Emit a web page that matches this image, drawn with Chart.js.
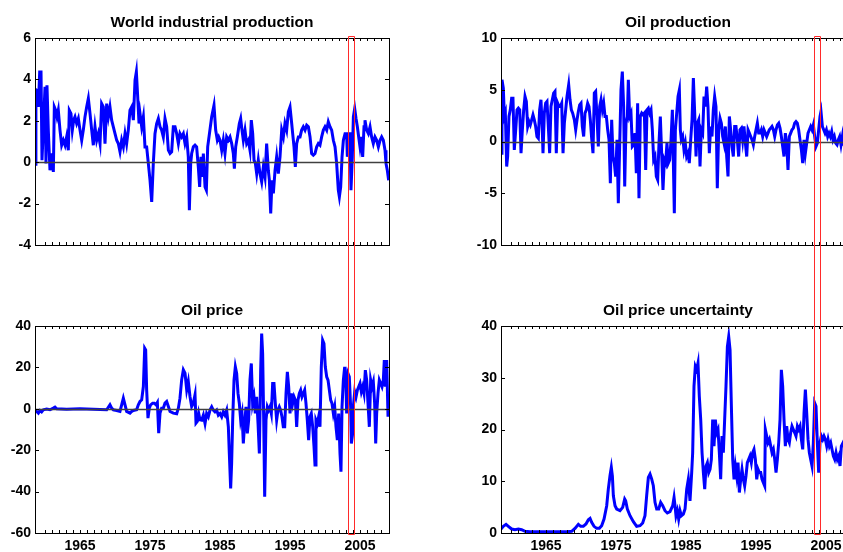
<!DOCTYPE html>
<html>
<head>
<meta charset="utf-8">
<script src="https://cdn.jsdelivr.net/npm/chart.js@4.4.0/dist/chart.umd.min.js"></script>
<style>
  html, body { margin: 0; padding: 0; background: #fff; }
  #fig { position: relative; width: 843px; height: 552px; overflow: hidden; background: #fff; }
  #fig canvas { position: absolute; }
</style>
</head>
<body>
<div id="fig">
  <canvas id="wip" width="421" height="280" style="left:0;top:0"></canvas>
  <canvas id="oilprod" width="435" height="280" style="left:421px;top:0"></canvas>
  <canvas id="oilprice" width="421" height="272" style="left:0;top:280px"></canvas>
  <canvas id="uncert" width="435" height="272" style="left:421px;top:280px"></canvas>
</div>
<script>
// time axis (years) and the highlighted window
const xRange = [1958.57, 2009.14];
const yearLabels = [1965, 1975, 1985, 1995, 2005];
const highlight = [2003.25, 2004.2];

// [year, value]
const worldIP = [
  [1958.57,-0.1],[1958.7,3.5],[1958.81,3.48],[1959.05,2.67],[1959.24,4.36],[1959.43,4.36],[1959.57,0.1],
  [1960.0,3.64],[1960.14,-0.06],[1960.28,3.72],[1960.47,1.55],[1960.71,-0.39],[1960.95,0.42],[1961.19,-0.47],
  [1961.33,2.67],[1961.52,2.51],[1961.71,2.19],[1961.9,2.51],[1962.14,1.55],[1962.38,0.82],[1962.62,1.06],
  [1962.86,0.82],[1963.09,1.22],[1963.33,0.58],[1963.47,2.51],[1963.71,2.35],[1963.9,1.55],[1964.09,2.03],
  [1964.28,2.19],[1964.52,1.87],[1964.76,2.11],[1965.0,1.55],[1965.24,1.06],[1965.47,1.55],[1965.71,2.19],
  [1965.95,2.67],[1966.19,3.08],[1966.43,2.35],[1966.67,1.55],[1966.9,0.82],[1967.14,1.71],[1967.38,1.06],
  [1967.62,1.38],[1967.86,0.9],[1968.09,2.83],[1968.33,2.67],[1968.57,0.9],[1968.81,2.83],[1969.05,2.19],
  [1969.28,2.67],[1969.52,2.03],[1969.76,1.71],[1970.0,1.38],[1970.24,1.06],[1970.47,0.9],[1970.71,0.5],
  [1970.95,1.06],[1971.19,0.74],[1971.43,1.38],[1971.66,0.9],[1971.9,1.55],[1972.14,2.51],[1972.38,2.67],
  [1972.62,2.03],[1972.86,3.96],[1973.05,4.36],[1973.24,3.16],[1973.43,1.87],[1973.57,2.35],[1973.81,1.71],
  [1974.05,2.19],[1974.28,0.74],[1974.52,0.74],[1974.76,-0.06],[1975.0,-0.87],[1975.24,-1.92],[1975.47,-0.06],
  [1975.71,1.38],[1975.95,1.87],[1976.19,2.11],[1976.43,1.71],[1976.66,1.55],[1976.9,1.22],[1977.14,2.11],
  [1977.38,1.71],[1977.62,0.58],[1977.86,0.42],[1978.09,0.5],[1978.33,1.71],[1978.57,1.71],[1978.81,1.38],
  [1979.05,0.9],[1979.28,1.38],[1979.52,1.22],[1979.76,1.38],[1980.0,0.9],[1980.24,1.22],[1980.47,0.26],
  [1980.62,-2.32],[1980.81,-0.06],[1980.95,0.42],[1981.19,0.74],[1981.43,0.82],[1981.66,0.74],[1981.9,-0.23],
  [1982.09,-1.19],[1982.28,0.26],[1982.47,-0.71],[1982.62,0.42],[1982.86,-1.19],[1983.05,-1.35],[1983.24,0.74],
  [1983.81,2.19],[1984.14,2.75],[1984.38,1.55],[1984.62,1.06],[1984.81,1.22],[1985.0,1.06],[1985.24,0.58],
  [1985.47,1.06],[1985.71,0.42],[1985.95,1.22],[1986.19,1.06],[1986.43,1.22],[1986.67,0.9],[1986.9,0.42],
  [1987.05,-0.31],[1987.24,0.74],[1987.47,1.22],[1987.76,1.87],[1987.95,2.11],[1988.14,1.55],[1988.33,1.06],
  [1988.57,1.55],[1988.81,0.9],[1989.05,1.06],[1989.28,0.58],[1989.47,2.03],[1989.67,1.38],[1989.86,0.1],
  [1990.05,-0.06],[1990.24,-0.55],[1990.47,0.1],[1990.71,-0.55],[1990.95,-0.95],[1991.19,-0.23],[1991.43,-0.71],
  [1991.66,0.9],[1991.9,-0.39],[1992.05,-0.87],[1992.24,-2.48],[1992.43,-0.87],[1992.62,-1.51],[1992.86,-0.39],
  [1993.09,0.26],[1993.33,-0.55],[1993.57,0.26],[1993.81,1.55],[1994.05,1.22],[1994.28,1.87],[1994.52,1.55],
  [1994.76,2.43],[1995.0,2.67],[1995.24,1.87],[1995.38,1.38],[1995.57,0.74],[1995.76,-0.23],[1995.95,0.9],
  [1996.19,1.22],[1996.43,1.22],[1996.66,1.55],[1996.9,1.71],[1997.14,1.55],[1997.38,1.79],[1997.62,1.71],
  [1997.86,1.22],[1998.09,0.42],[1998.33,0.34],[1998.57,0.42],[1998.81,0.74],[1999.05,0.9],[1999.28,0.82],
  [1999.52,1.22],[1999.76,1.55],[2000.0,1.71],[2000.24,1.55],[2000.47,1.95],[2000.71,1.71],[2000.95,1.55],
  [2001.19,1.06],[2001.43,0.74],[2001.66,-0.06],[2001.9,-1.35],[2002.05,-1.67],[2002.24,-1.19],[2002.43,0.26],
  [2002.62,1.06],[2002.86,1.38],[2003.09,1.38],[2003.19,0.26],[2003.33,1.38],[2003.57,1.38],[2003.71,-1.35],
  [2003.9,0.26],[2004.05,2.19],[2004.24,2.59],[2004.43,2.11],[2004.62,1.71],[2004.81,1.22],[2005.0,0.74],
  [2005.19,1.22],[2005.38,0.26],[2005.57,1.71],[2005.71,2.03],[2005.95,1.55],[2006.19,1.38],[2006.43,1.71],
  [2006.66,1.22],[2006.9,0.9],[2007.14,1.22],[2007.38,1.06],[2007.62,0.74],[2007.86,1.06],[2008.09,1.22],
  [2008.33,1.06],[2008.57,0.58],[2008.71,-0.06],[2008.9,-0.39],[2009.09,-0.87]
];

const oilProduction = [
  [1958.57,-1.13],[1958.71,5.96],[1958.9,5.15],[1959.05,2.42],[1959.19,2.74],[1959.38,-2.42],[1959.52,-1.45],
  [1959.71,2.42],[1959.9,3.06],[1960.09,4.19],[1960.28,4.19],[1960.47,-0.81],[1960.67,1.13],[1960.86,3.06],
  [1961.05,3.22],[1961.24,3.06],[1961.43,-1.13],[1961.62,1.13],[1961.81,3.06],[1962.0,4.35],[1962.19,3.86],
  [1962.38,1.45],[1962.57,1.93],[1962.76,1.61],[1962.95,2.09],[1963.14,2.58],[1963.33,2.09],[1963.52,1.45],
  [1963.71,0.48],[1963.9,0.32],[1964.09,3.06],[1964.28,4.03],[1964.47,1.13],[1964.57,-1.13],[1964.76,2.74],
  [1964.95,3.7],[1965.14,3.86],[1965.33,1.45],[1965.52,-1.13],[1965.71,3.38],[1965.9,4.03],[1966.09,4.67],
  [1966.28,4.83],[1966.47,-1.13],[1966.67,3.7],[1966.86,3.38],[1967.05,3.38],[1967.24,3.7],[1967.43,-1.13],
  [1967.62,1.77],[1967.81,3.06],[1968.0,4.35],[1968.24,5.48],[1968.43,4.03],[1968.62,3.06],[1968.81,2.74],
  [1969.05,2.09],[1969.24,1.13],[1969.43,2.09],[1969.62,2.9],[1969.81,3.54],[1970.0,3.7],[1970.19,1.45],
  [1970.38,0.48],[1970.57,2.74],[1970.76,3.06],[1970.95,3.7],[1971.14,3.38],[1971.33,2.09],[1971.52,0.32],
  [1971.71,-1.13],[1971.9,4.67],[1972.09,4.83],[1972.28,2.42],[1972.47,-0.48],[1972.67,3.38],[1972.86,4.03],
  [1973.05,3.06],[1973.24,3.7],[1973.43,2.42],[1973.62,2.42],[1973.81,1.13],[1974.0,0.16],[1974.19,-4.03],
  [1974.38,2.09],[1974.57,-1.45],[1974.76,-2.09],[1974.95,-3.38],[1975.14,0.16],[1975.33,-5.96],[1975.52,-0.48],
  [1975.71,4.99],[1975.9,6.76],[1976.09,3.38],[1976.24,-4.35],[1976.43,1.77],[1976.62,2.42],[1976.76,5.96],
  [1976.95,2.42],[1977.14,2.74],[1977.33,-0.48],[1977.52,-0.32],[1977.71,0.81],[1977.9,-3.06],[1978.09,3.7],
  [1978.28,-5.48],[1978.47,2.42],[1978.67,2.74],[1978.86,2.58],[1979.05,2.74],[1979.24,-2.74],[1979.43,3.06],
  [1979.62,3.22],[1979.81,2.74],[1980.0,3.06],[1980.19,1.13],[1980.38,-1.77],[1980.57,-1.45],[1980.76,-3.38],
  [1980.95,-3.7],[1981.14,-0.16],[1981.33,2.42],[1981.52,-1.13],[1981.71,-4.67],[1981.9,-1.77],[1982.09,-2.09],
  [1982.28,-0.16],[1982.47,-2.09],[1982.67,-1.77],[1982.86,0.16],[1983.05,3.06],[1983.24,-3.7],[1983.33,-6.92],
  [1983.48,1.13],[1983.86,4.35],[1984.05,4.99],[1984.19,1.13],[1984.33,0.16],[1984.52,0.48],[1984.71,-0.81],
  [1984.9,-0.16],[1985.09,-1.45],[1985.28,-1.13],[1985.47,-2.09],[1985.67,0.16],[1985.86,2.09],[1986.05,6.12],
  [1986.24,2.74],[1986.43,-1.45],[1986.62,1.77],[1986.81,2.09],[1987.0,-2.42],[1987.19,1.13],[1987.38,0.81],
  [1987.57,4.35],[1987.76,3.38],[1987.95,5.31],[1988.14,3.38],[1988.33,-1.13],[1988.52,1.45],[1988.71,0.48],
  [1988.9,3.06],[1989.09,4.35],[1989.28,3.38],[1989.47,-4.51],[1989.67,1.13],[1989.86,2.25],[1990.05,1.77],
  [1990.24,0.48],[1990.43,-0.16],[1990.62,1.45],[1990.81,-1.45],[1991.0,-3.38],[1991.19,2.42],[1991.38,1.13],
  [1991.57,-0.48],[1991.76,-1.45],[1991.95,1.45],[1992.14,1.45],[1992.33,0.16],[1992.52,-1.45],[1992.71,1.13],
  [1992.9,1.29],[1993.09,0.16],[1993.28,1.45],[1993.48,-0.16],[1993.67,-1.45],[1993.86,1.13],[1994.05,0.81],
  [1994.24,0.48],[1994.43,0.16],[1994.62,-0.32],[1994.81,0.48],[1995.0,1.13],[1995.19,1.77],[1995.38,0.81],
  [1995.57,0.81],[1995.76,1.13],[1995.95,0.48],[1996.14,1.13],[1996.33,0.81],[1996.52,0.48],[1996.71,0.81],
  [1996.9,1.13],[1997.09,1.29],[1997.28,1.45],[1997.48,1.13],[1997.67,0.48],[1997.86,1.13],[1998.05,1.61],
  [1998.24,1.77],[1998.43,1.29],[1998.62,0.48],[1998.81,-0.48],[1999.0,-1.45],[1999.19,0.81],[1999.38,-0.16],
  [1999.57,-2.74],[1999.76,0.48],[1999.95,0.81],[2000.14,1.13],[2000.33,1.29],[2000.52,1.77],[2000.71,1.93],
  [2000.9,1.77],[2001.09,1.13],[2001.28,0.16],[2001.48,-0.81],[2001.67,-2.09],[2001.86,0.16],[2002.05,-1.13],
  [2002.24,-0.16],[2002.43,0.81],[2002.62,1.13],[2002.81,1.45],[2003.0,1.13],[2003.19,1.61],[2003.38,0.48],
  [2003.57,-0.48],[2003.76,-0.16],[2003.95,1.13],[2004.14,2.42],[2004.28,2.9],[2004.48,1.45],[2004.67,1.13],
  [2004.86,0.81],[2005.05,1.13],[2005.24,0.48],[2005.43,0.81],[2005.62,0.48],[2005.81,0.97],[2006.0,0.16],
  [2006.19,0.48],[2006.38,-0.16],[2006.57,-0.32],[2006.76,0.16],[2006.95,0.48],[2007.14,-0.32],[2007.33,0.48],
  [2007.43,-0.16],[2007.86,0.16],[2009.09,0.0]
];

const oilPrice = [
  [1958.57,-0.48],[1958.81,-1.29],[1959.05,-2.09],[1959.28,-0.8],[1959.52,-1.45],[1959.76,-0.48],[1960.24,-0.16],
  [1960.71,-0.48],[1961.19,0.32],[1961.43,0.8],[1961.67,0.0],[1963.09,-0.16],[1965.0,0.0],[1966.9,-0.16],
  [1967.86,-0.32],[1968.81,-0.48],[1969.28,1.93],[1969.52,0.32],[1969.76,-0.48],[1970.24,-0.8],[1970.71,-1.29],
  [1970.95,1.93],[1971.19,5.14],[1971.43,1.93],[1971.66,-1.29],[1972.14,-2.09],[1972.38,-1.29],[1972.62,-0.8],
  [1973.09,-0.48],[1973.33,1.93],[1973.57,3.54],[1973.81,4.34],[1974.05,10.77],[1974.24,29.26],[1974.38,28.46],
  [1974.52,9.16],[1974.71,-4.5],[1974.9,0.32],[1975.09,1.93],[1975.38,2.73],[1975.62,2.73],[1975.86,1.93],
  [1976.05,3.05],[1976.24,-11.74],[1976.43,-2.09],[1976.66,0.32],[1976.9,0.32],[1977.14,2.73],[1977.38,3.54],
  [1977.62,1.13],[1977.86,-1.29],[1978.33,-2.09],[1978.81,-2.41],[1979.05,0.32],[1979.28,5.14],[1979.52,13.99],
  [1979.76,18.81],[1980.0,17.2],[1980.24,9.16],[1980.47,13.18],[1980.71,5.95],[1980.95,1.13],[1981.19,2.73],
  [1981.43,6.75],[1981.57,-6.91],[1981.76,-6.11],[1981.95,-2.09],[1982.14,-5.31],[1982.38,-5.48],[1982.62,-3.06],
  [1982.86,-7.09],[1983.09,-2.25],[1983.33,-3.86],[1983.57,-0.64],[1983.81,0.97],[1984.04,-0.64],[1984.28,-1.45],
  [1984.52,-0.64],[1984.76,-3.06],[1985.0,-2.25],[1985.24,-3.86],[1985.47,-1.45],[1985.71,-3.06],[1985.95,-0.64],
  [1986.19,-8.7],[1986.33,-21.58],[1986.52,-38.49],[1986.66,-26.41],[1986.81,-5.48],[1987.0,13.85],[1987.19,20.29],
  [1987.38,17.07],[1987.57,7.41],[1987.76,2.58],[1987.95,-5.48],[1988.14,-2.25],[1988.33,-16.75],[1988.52,-7.09],
  [1988.71,0.97],[1988.9,-11.92],[1989.09,-5.48],[1989.28,13.85],[1989.47,21.9],[1989.66,2.58],[1989.85,5.8],
  [1990.04,-2.25],[1990.23,5.8],[1990.43,-7.09],[1990.62,-21.58],[1990.81,18.68],[1990.95,36.39],[1991.09,26.73],
  [1991.24,-5.48],[1991.38,-42.51],[1991.57,-5.48],[1991.76,0.97],[1991.95,-0.64],[1992.14,0.97],[1992.33,-2.25],
  [1992.52,12.24],[1992.71,12.24],[1992.9,2.58],[1993.09,-5.48],[1993.28,-0.64],[1993.47,0.97],[1993.66,-0.64],
  [1993.85,-3.86],[1994.04,-8.7],[1994.24,-8.7],[1994.43,7.41],[1994.62,17.87],[1994.81,10.63],[1995.0,-2.25],
  [1995.19,7.41],[1995.38,2.58],[1995.57,5.8],[1995.76,4.19],[1995.95,-8.7],[1996.14,4.19],[1996.33,7.41],
  [1996.52,9.02],[1996.71,5.8],[1996.9,7.41],[1997.09,9.02],[1997.28,2.58],[1997.47,-5.48],[1997.66,-15.14],
  [1997.85,-3.86],[1998.04,-2.25],[1998.24,-8.7],[1998.43,-18.36],[1998.57,-27.21],[1998.71,-5.48],[1998.9,-7.09],
  [1999.09,-3.86],[1999.28,-8.7],[1999.47,20.29],[1999.66,33.17],[1999.85,31.56],[2000.04,20.29],[2000.24,15.46],
  [2000.43,13.85],[2000.62,9.02],[2000.81,4.19],[2001.0,2.58],[2001.19,-2.25],[2001.38,0.97],[2001.57,-8.7],
  [2001.76,-15.14],[2001.95,-2.25],[2002.14,-21.58],[2002.28,-30.43],[2002.43,0.97],[2002.62,13.85],[2002.81,20.29],
  [2003.0,10.63],[2003.09,-2.25],[2003.28,17.07],[2003.47,15.46],[2003.66,0.97],[2003.76,-16.75],[2003.95,-11.92],
  [2004.04,0.97],[2004.24,8.21],[2004.43,5.8],[2004.62,9.02],[2004.81,10.63],[2005.0,12.24],[2005.19,8.21],
  [2005.38,10.63],[2005.57,7.41],[2005.76,18.68],[2005.95,13.85],[2006.14,2.58],[2006.33,-8.7],[2006.52,13.85],
  [2006.71,10.63],[2006.9,13.04],[2007.09,2.58],[2007.24,-16.75],[2007.38,-2.25],[2007.57,7.41],[2007.76,13.85],
  [2007.95,12.24],[2008.14,10.63],[2008.33,13.85],[2008.47,23.51],[2008.62,10.63],[2008.81,23.51],[2009.0,-3.86]
];

const oilUncertainty = [
  [1958.57,0.77],[1958.9,1.29],[1959.29,1.67],[1959.62,1.29],[1960.09,0.77],[1960.57,0.64],[1961.05,0.77],
  [1961.52,0.64],[1962.0,0.32],[1962.71,0.26],[1964.14,0.26],[1966.05,0.26],[1967.95,0.26],[1968.67,0.32],
  [1969.14,0.9],[1969.62,1.67],[1969.95,1.29],[1970.33,1.29],[1970.71,1.74],[1971.05,2.57],[1971.29,2.83],
  [1971.52,2.06],[1971.86,1.29],[1972.24,0.9],[1972.62,0.9],[1972.95,1.41],[1973.29,2.7],[1973.67,5.27],
  [1973.9,8.49],[1974.14,11.06],[1974.33,12.67],[1974.48,11.06],[1974.62,7.2],[1974.86,5.27],[1975.1,4.63],
  [1975.57,4.31],[1975.95,4.95],[1976.24,6.56],[1976.38,6.24],[1976.62,4.63],[1977.0,3.34],[1977.48,2.19],
  [1977.95,1.29],[1978.43,1.41],[1978.81,1.93],[1979.14,3.34],[1979.38,7.2],[1979.62,10.74],[1979.86,11.38],
  [1980.1,10.42],[1980.33,9.13],[1980.57,5.92],[1980.81,4.63],[1981.1,4.63],[1981.38,5.92],[1981.67,5.27],
  [1982.0,4.31],[1982.33,3.86],[1982.71,4.12],[1983.1,5.27],[1983.29,6.88],[1983.43,5.27],[1983.57,3.34],
  [1983.76,4.31],[1983.95,2.7],[1984.14,4.31],[1984.33,3.34],[1984.62,3.67],[1984.86,4.63],[1985.1,8.49],
  [1985.33,10.38],[1985.57,6.22],[1985.81,11.67],[1985.95,15.51],[1986.14,28.33],[1986.33,32.18],[1986.52,31.54],
  [1986.71,32.82],[1986.9,26.41],[1987.1,21.92],[1987.29,15.51],[1987.48,11.67],[1987.67,8.46],[1987.86,12.95],
  [1988.05,13.59],[1988.24,11.67],[1988.43,12.31],[1988.62,14.23],[1988.81,21.92],[1989.0,16.79],[1989.19,21.92],
  [1989.38,19.36],[1989.57,20.0],[1989.76,15.51],[1989.95,10.38],[1990.14,18.72],[1990.33,15.51],[1990.52,21.92],
  [1990.71,28.33],[1990.91,36.03],[1991.1,37.95],[1991.29,35.38],[1991.48,24.49],[1991.67,14.23],[1991.86,10.38],
  [1992.05,12.95],[1992.24,11.03],[1992.43,13.59],[1992.62,7.82],[1992.81,10.38],[1993.0,12.31],[1993.19,10.38],
  [1993.38,9.1],[1993.57,11.03],[1993.76,13.59],[1993.95,14.23],[1994.14,14.87],[1994.33,13.59],[1994.52,15.51],
  [1994.71,16.15],[1994.91,14.23],[1995.1,10.38],[1995.29,12.31],[1995.48,11.67],[1995.67,11.67],[1995.86,10.38],
  [1996.05,9.74],[1996.24,9.1],[1996.33,20.0],[1996.52,18.72],[1996.71,17.44],[1996.91,18.08],[1997.1,16.79],
  [1997.29,15.51],[1997.48,16.15],[1997.67,14.23],[1997.86,11.67],[1998.05,14.23],[1998.24,17.44],[1998.43,21.92],
  [1998.62,31.54],[1998.81,28.33],[1999.0,21.92],[1999.19,16.79],[1999.38,20.64],[1999.57,18.08],[1999.76,17.44],
  [1999.95,19.36],[2000.14,20.64],[2000.33,20.0],[2000.53,19.36],[2000.71,18.72],[2000.91,20.64],[2001.1,20.0],
  [2001.29,20.64],[2001.48,18.08],[2001.67,16.15],[2001.86,23.21],[2002.05,27.69],[2002.24,23.21],[2002.43,18.08],
  [2002.62,15.51],[2002.81,14.23],[2003.0,12.95],[2003.19,17.44],[2003.38,25.13],[2003.57,24.49],[2003.76,17.44],
  [2003.95,11.67],[2004.14,17.44],[2004.33,18.72],[2004.53,18.08],[2004.71,18.72],[2004.91,18.08],[2005.1,16.79],
  [2005.29,18.08],[2005.48,16.79],[2005.67,17.44],[2005.86,16.15],[2006.05,14.87],[2006.24,14.23],[2006.43,15.51],
  [2006.62,14.23],[2006.81,14.87],[2007.0,12.95],[2007.19,16.79],[2007.43,17.44],[2008.0,15.0],[2009.0,14.0]
];

const FONT = "'Liberation Sans', Arial, Helvetica, sans-serif";

// MATLAB-like box: inward ticks on all four sides, zero line, red window
const framePlugin = {
  id: 'frame',
  afterDatasetsDraw(chart, args, opts) {
    const ctx = chart.ctx;
    const {left, right, top, bottom} = chart.chartArea;
    const xs = chart.scales.x, ys = chart.scales.y;
    ctx.save();
    if (ys.min < 0) {
      const y0 = Math.round(ys.getPixelForValue(0)) + 0.5;
      ctx.strokeStyle = '#404040';
      ctx.lineWidth = 1.3;
      ctx.beginPath(); ctx.moveTo(left, y0); ctx.lineTo(right, y0); ctx.stroke();
    }
    ctx.strokeStyle = '#000';
    ctx.lineWidth = 1;
    ctx.beginPath();
    xs.ticks.forEach(t => {
      if (!Number.isInteger(t.value)) return;
      const px = Math.round(xs.getPixelForValue(t.value)) + 0.5;
      ctx.moveTo(px, top); ctx.lineTo(px, top + 3);
      ctx.moveTo(px, bottom); ctx.lineTo(px, bottom - 3);
    });
    ys.ticks.forEach(t => {
      const py = Math.round(ys.getPixelForValue(t.value)) + 0.5;
      ctx.moveTo(left, py); ctx.lineTo(left + 4, py);
      ctx.moveTo(right, py); ctx.lineTo(right - 4, py);
    });
    ctx.stroke();
    ctx.strokeRect(Math.round(left) + 0.5, Math.round(top) + 0.5, Math.round(right - left), Math.round(bottom - top));

    const x1 = Math.round(xs.getPixelForValue(highlight[0])) + 0.5;
    const x2 = Math.round(xs.getPixelForValue(highlight[1])) + 0.5;
    ctx.strokeStyle = '#ff2a2a';
    ctx.beginPath();
    if (opts.part === 'upper') {
      const yt = Math.round(top) - 1.5;
      ctx.moveTo(x1, chart.height); ctx.lineTo(x1, yt); ctx.lineTo(x2, yt); ctx.lineTo(x2, chart.height);
    } else {
      const yb = Math.round(bottom) + 1.5;
      ctx.moveTo(x1, 0); ctx.lineTo(x1, yb); ctx.lineTo(x2, yb); ctx.lineTo(x2, 0);
    }
    ctx.stroke();
    ctx.restore();
  }
};

function makePanel(id, title, series, yMin, yMax, yStep, part, axisWidth) {
  const upper = part === 'upper';
  const tickFont = {family: FONT, size: 14, weight: 'bold'};
  return new Chart(document.getElementById(id), {
    type: 'line',
    data: {
      datasets: [{
        data: series.map(p => ({x: p[0], y: p[1]})),
        borderColor: '#0000ff',
        borderWidth: 3,
        pointRadius: 0,
        tension: 0,
        fill: false
      }]
    },
    options: {
      responsive: false,
      animation: false,
      devicePixelRatio: 1,
      layout: {padding: {top: upper ? 0 : 8, right: axisWidth === 35 ? 32 : 1, bottom: 0, left: 0}},
      plugins: {
        legend: {display: false},
        tooltip: {enabled: false},
        title: {
          display: true, text: title, fullSize: false, color: '#000',
          font: {family: FONT, size: 15.5, weight: 'bold', lineHeight: 1.2},
          padding: {top: 13, bottom: 6.4}
        },
        frame: {part: part}
      },
      scales: {
        x: {
          type: 'linear', min: xRange[0], max: xRange[1],
          grid: {display: false, drawTicks: false}, border: {display: false},
          ticks: {
            display: !upper, stepSize: 1, autoSkip: false, maxRotation: 0, padding: 5,
            color: '#000', font: tickFont,
            callback: v => yearLabels.includes(v) ? String(v) : ''
          },
          afterFit: s => {
            s.height = upper ? 35 : 19;
            s.paddingLeft = 0;
            s.paddingRight = 0;
          }
        },
        y: {
          min: yMin, max: yMax,
          grid: {display: false, drawTicks: false}, border: {display: false},
          ticks: {stepSize: yStep, padding: 4, color: '#000', font: tickFont},
          afterFit: s => { s.width = axisWidth; }
        }
      }
    },
    plugins: [framePlugin]
  });
}

makePanel('wip', 'World industrial production', worldIP, -4, 6, 2, 'upper', 35);
makePanel('oilprod', 'Oil production', oilProduction, -10, 10, 5, 'upper', 80);
makePanel('oilprice', 'Oil price', oilPrice, -60, 40, 20, 'lower', 35);
makePanel('uncert', 'Oil price uncertainty', oilUncertainty, 0, 40, 10, 'lower', 80);
</script>
</body>
</html>
